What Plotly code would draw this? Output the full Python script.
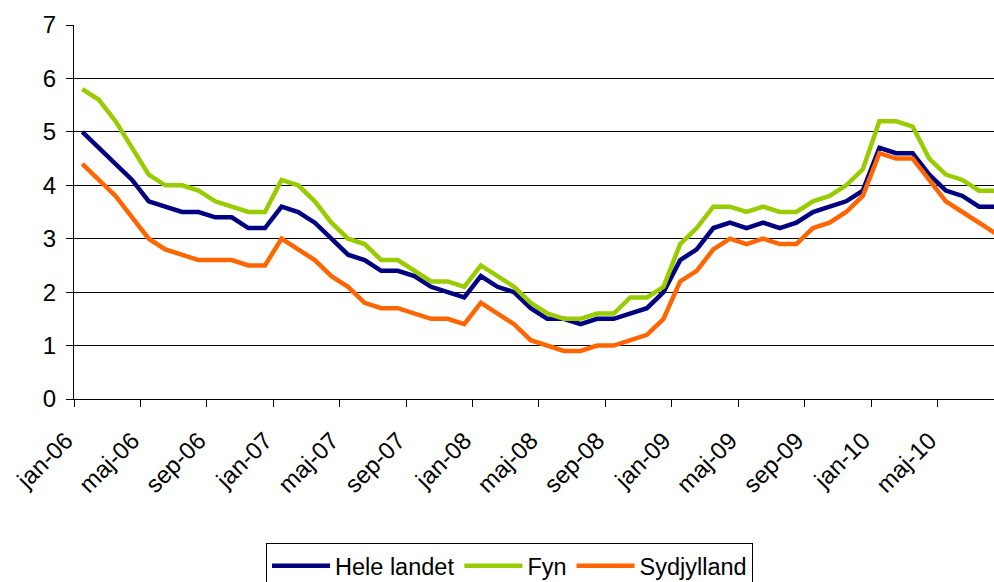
import plotly.graph_objects as go

# Monthly series, jan-06 .. aug-10
month_names = ["jan", "feb", "mar", "apr", "maj", "jun",
               "jul", "aug", "sep", "okt", "nov", "dec"]
months = [f"{m}-{y:02d}" for y in range(6, 11) for m in month_names][:56]

hele_landet = [5.0, 4.7, 4.4, 4.1, 3.7, 3.6, 3.5, 3.5, 3.4, 3.4, 3.2, 3.2,
               3.6, 3.5, 3.3, 3.0, 2.7, 2.6, 2.4, 2.4, 2.3, 2.1, 2.0, 1.9,
               2.3, 2.1, 2.0, 1.7, 1.5, 1.5, 1.4, 1.5, 1.5, 1.6, 1.7, 2.0,
               2.6, 2.8, 3.2, 3.3, 3.2, 3.3, 3.2, 3.3, 3.5, 3.6, 3.7, 3.9,
               4.7, 4.6, 4.6, 4.2, 3.9, 3.8, 3.6, 3.6]
fyn = [5.8, 5.6, 5.2, 4.7, 4.2, 4.0, 4.0, 3.9, 3.7, 3.6, 3.5, 3.5,
       4.1, 4.0, 3.7, 3.3, 3.0, 2.9, 2.6, 2.6, 2.4, 2.2, 2.2, 2.1,
       2.5, 2.3, 2.1, 1.8, 1.6, 1.5, 1.5, 1.6, 1.6, 1.9, 1.9, 2.1,
       2.9, 3.2, 3.6, 3.6, 3.5, 3.6, 3.5, 3.5, 3.7, 3.8, 4.0, 4.3,
       5.2, 5.2, 5.1, 4.5, 4.2, 4.1, 3.9, 3.9]
sydjylland = [4.4, 4.1, 3.8, 3.4, 3.0, 2.8, 2.7, 2.6, 2.6, 2.6, 2.5, 2.5,
              3.0, 2.8, 2.6, 2.3, 2.1, 1.8, 1.7, 1.7, 1.6, 1.5, 1.5, 1.4,
              1.8, 1.6, 1.4, 1.1, 1.0, 0.9, 0.9, 1.0, 1.0, 1.1, 1.2, 1.5,
              2.2, 2.4, 2.8, 3.0, 2.9, 3.0, 2.9, 2.9, 3.2, 3.3, 3.5, 3.8,
              4.6, 4.5, 4.5, 4.1, 3.7, 3.5, 3.3, 3.1]

# every 4th month gets a label, placed on the category boundary like Excel
tick_labels = months[::4]
tick_pos = [i - 0.5 for i in range(0, len(months), 4)]
x = list(range(len(months)))

font = "Liberation Sans, Arial, sans-serif"

fig = go.Figure()
fig.add_trace(go.Scatter(x=x, y=hele_landet, name="Hele landet", mode="lines",
                         line=dict(color="#000080", width=4.5)))
fig.add_trace(go.Scatter(x=x, y=fyn, name="Fyn", mode="lines",
                         line=dict(color="#99CC00", width=4.5)))
fig.add_trace(go.Scatter(x=x, y=sydjylland, name="Sydjylland", mode="lines",
                         line=dict(color="#FF6600", width=4.5)))

fig.update_layout(
    width=994, height=582,
    margin=dict(l=74, r=0, t=25, b=183, autoexpand=False),
    paper_bgcolor="white", plot_bgcolor="white",
    font=dict(family=font, size=24, color="black"),
    showlegend=True,
    legend=dict(orientation="h", x=0.4734, xanchor="center", y=-0.385, yanchor="top",
                bordercolor="black", borderwidth=1, font=dict(size=23.5),
                itemwidth=58, tracegroupgap=0),
)
fig.update_xaxes(
    range=[-0.5, 54.9], tickmode="array", tickvals=tick_pos, ticktext=tick_labels,
    tickangle=-45, ticks="outside", ticklen=7, tickcolor="black",
    showline=True, linecolor="black", linewidth=1, showgrid=False, zeroline=False,
    ticklabelstandoff=10, ticklabelshift=-8, automargin=False,
)
fig.update_yaxes(
    range=[0, 7], dtick=1, ticks="outside", ticklen=7, tickcolor="black",
    showline=True, linecolor="black", linewidth=1,
    showgrid=True, gridcolor="black", gridwidth=1, zeroline=False,
    ticklabelstandoff=5, automargin=False,
)

# drop the default 8px body margin so the figure fills the window exactly
fig.write_html("out.html", config={"displayModeBar": False},
               post_script="document.body.style.margin='0';")
